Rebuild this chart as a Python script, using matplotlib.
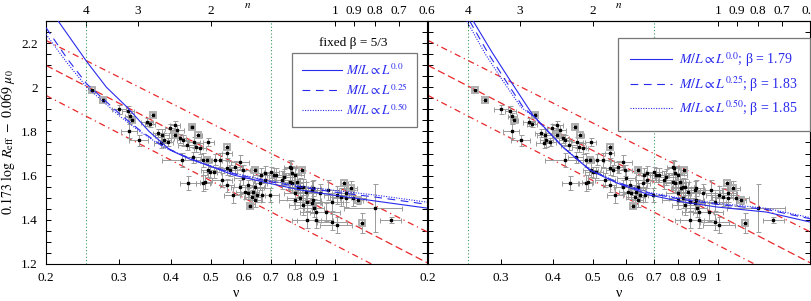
import numpy as np
import matplotlib
matplotlib.use('Agg')
import matplotlib.pyplot as plt
from matplotlib.ticker import FixedLocator, NullLocator, MultipleLocator, FixedFormatter

plt.rcParams['font.family'] = ['Liberation Serif', 'DejaVu Serif']
plt.rcParams['mathtext.fontset'] = 'stix'

#%% data
# galaxies: nu, 0.173 log Reff - 0.069 mu0, errors, boxed (grey square)
nu = [0.259, 0.274, 0.300, 0.316, 0.319, 0.323, 0.318, 0.335, 0.362, 0.351,
      0.357, 0.374, 0.382, 0.386, 0.399, 0.410, 0.415, 0.410, 0.394, 0.380,
      0.422, 0.451, 0.429, 0.438, 0.457, 0.462, 0.472, 0.494, 0.491, 0.427,
      0.454, 0.480, 0.548, 0.548, 0.512, 0.528, 0.590, 0.494, 0.509, 0.548,
      0.597, 0.641, 0.676, 0.710, 0.750, 0.779, 0.801, 0.485, 0.534, 0.600,
      0.676, 0.743, 0.779, 0.480, 0.548, 0.590, 0.614, 0.641, 0.659, 0.565,
      0.607, 0.617, 0.631, 0.648, 0.666, 0.697, 0.624, 0.641, 0.634, 0.663,
      0.701, 0.721, 0.788, 0.829, 0.783, 0.788, 0.824, 0.810, 0.834, 0.815,
      0.801, 0.848, 0.881, 0.886, 0.824, 0.801, 0.834, 0.857, 0.881, 0.886,
      0.921, 0.963, 1.008, 0.985, 1.053, 1.089, 1.059, 1.107, 1.138, 0.900,
      0.949, 0.900, 0.985, 1.008, 1.163, 1.250, 1.361, 1.030, 1.059, 0.856,
      0.889, 0.499, 0.558, 0.574, 0.441, 0.466]
Y = [1.987, 1.942, 1.901, 1.892, 1.870, 1.852, 1.802, 1.761, 1.874, 1.843,
     1.834, 1.793, 1.784, 1.761, 1.815, 1.829, 1.806, 1.784, 1.752, 1.748,
     1.770, 1.820, 1.761, 1.738, 1.752, 1.729, 1.725, 1.752, 1.671, 1.671,
     1.684, 1.671, 1.729, 1.702, 1.671, 1.671, 1.662, 1.625, 1.616, 1.634,
     1.625, 1.625, 1.612, 1.603, 1.594, 1.639, 1.603, 1.571, 1.580, 1.589,
     1.580, 1.580, 1.571, 1.567, 1.557, 1.548, 1.557, 1.548, 1.567, 1.512,
     1.526, 1.521, 1.503, 1.512, 1.512, 1.512, 1.462, 1.490, 1.526, 1.603,
     1.616, 1.603, 1.612, 1.625, 1.634, 1.567, 1.548, 1.571, 1.548, 1.544,
     1.521, 1.526, 1.535, 1.544, 1.499, 1.490, 1.467, 1.481, 1.476, 1.490,
     1.521, 1.535, 1.512, 1.481, 1.567, 1.544, 1.499, 1.499, 1.490, 1.435,
     1.435, 1.399, 1.390, 1.376, 1.385, 1.453, 1.399, 1.503, 1.521, 1.399,
     1.453, 1.616, 1.625, 1.639, 1.567, 1.784]
nu_err = [0.004, 0.005, 0.012, 0.010, 0.008, 0.006, 0.014, 0.018, 0.006, 0.012,
          0.010, 0.012, 0.015, 0.014, 0.012, 0.012, 0.015, 0.008, 0.012, 0.015,
          0.015, 0.006, 0.015, 0.020, 0.015, 0.018, 0.015, 0.015, 0.008, 0.045,
          0.020, 0.020, 0.010, 0.015, 0.020, 0.025, 0.030, 0.020, 0.020, 0.025,
          0.025, 0.010, 0.030, 0.035, 0.045, 0.025, 0.040, 0.015, 0.030, 0.030,
          0.040, 0.050, 0.040, 0.018, 0.020, 0.030, 0.030, 0.030, 0.025, 0.025,
          0.030, 0.025, 0.030, 0.030, 0.030, 0.035, 0.010, 0.020, 0.020, 0.030,
          0.030, 0.035, 0.040, 0.015, 0.030, 0.050, 0.050, 0.040, 0.040, 0.045,
          0.050, 0.050, 0.050, 0.040, 0.060, 0.070, 0.060, 0.060, 0.050, 0.040,
          0.060, 0.060, 0.070, 0.060, 0.020, 0.040, 0.070, 0.080, 0.030, 0.080,
          0.080, 0.090, 0.080, 0.090, 0.020, 0.200, 0.080, 0.060, 0.050, 0.070,
          0.050, 0.020, 0.020, 0.020, 0.020, 0.010]
Y_err = [0.005, 0.008, 0.020, 0.025, 0.015, 0.010, 0.030, 0.025, 0.008, 0.020,
         0.015, 0.020, 0.025, 0.030, 0.020, 0.020, 0.025, 0.010, 0.020, 0.025,
         0.020, 0.008, 0.025, 0.020, 0.025, 0.020, 0.025, 0.020, 0.010, 0.030,
         0.025, 0.030, 0.012, 0.020, 0.025, 0.030, 0.030, 0.030, 0.025, 0.030,
         0.025, 0.010, 0.030, 0.030, 0.035, 0.030, 0.035, 0.030, 0.030, 0.030,
         0.035, 0.040, 0.035, 0.035, 0.030, 0.030, 0.025, 0.030, 0.030, 0.035,
         0.030, 0.025, 0.030, 0.030, 0.030, 0.030, 0.010, 0.030, 0.025, 0.030,
         0.025, 0.030, 0.030, 0.015, 0.030, 0.040, 0.040, 0.035, 0.035, 0.040,
         0.040, 0.045, 0.040, 0.035, 0.045, 0.040, 0.045, 0.040, 0.045, 0.040,
         0.040, 0.045, 0.040, 0.040, 0.015, 0.030, 0.040, 0.035, 0.020, 0.040,
         0.040, 0.035, 0.035, 0.035, 0.045, 0.110, 0.012, 0.040, 0.040, 0.035,
         0.040, 0.025, 0.025, 0.025, 0.030, 0.012]
boxed = [1, 1, 0, 0, 0, 1, 0, 0, 1, 0, 0, 0, 0, 0, 0, 0, 0, 1, 0, 0,
         0, 1, 0, 0, 0, 0, 0, 0, 1, 0, 0, 0, 1, 0, 0, 0, 0, 0, 0, 0,
         0, 1, 0, 0, 0, 0, 0, 0, 0, 0, 0, 0, 0, 0, 0, 0, 0, 0, 0, 0,
         0, 0, 0, 0, 0, 0, 1, 0, 0, 0, 0, 0, 0, 1, 0, 0, 0, 0, 0, 0,
         0, 0, 0, 0, 0, 0, 0, 0, 0, 0, 0, 0, 0, 0, 1, 1, 0, 0, 1, 0,
         0, 0, 0, 0, 1, 0, 0, 0, 0, 0, 0, 0, 0, 0, 0, 1]

# model curves, left panel (fixed beta)
left_solid_nu = [0.214, 0.2514, 0.28, 0.314, 0.355, 0.399, 0.445, 0.490, 0.567, 0.686, 0.824, 0.990, 1.197, 1.667]
left_solid_Y = [2.300, 2.114, 2.00, 1.910, 1.800, 1.716, 1.675, 1.648, 1.603, 1.567, 1.535, 1.512, 1.490, 1.453]
left_dash_nu = [0.2, 0.225, 0.251, 0.302, 0.340, 0.384, 0.430, 0.490, 0.570, 0.690, 0.830, 1.000, 1.250, 1.667]
left_dash_Y = [2.270, 2.130, 2.015, 1.878, 1.800, 1.733, 1.690, 1.648, 1.608, 1.574, 1.547, 1.525, 1.503, 1.470]
left_dot_nu = [0.2, 0.225, 0.251, 0.302, 0.340, 0.384, 0.430, 0.490, 0.570, 0.690, 0.830, 1.000, 1.250, 1.667]
left_dot_Y = [2.240, 2.110, 2.000, 1.868, 1.795, 1.730, 1.690, 1.650, 1.610, 1.578, 1.552, 1.533, 1.512, 1.480]

# model curves, right panel (fitted beta)
right_solid_nu = [0.257, 0.285, 0.315, 0.358, 0.423, 0.491, 0.570, 0.685, 0.823, 0.994, 1.31, 1.667]
right_solid_Y = [2.300, 2.160, 2.033, 1.874, 1.729, 1.625, 1.567, 1.512, 1.481, 1.458, 1.435, 1.390]
right_dash_nu = [0.252, 0.280, 0.307, 0.339, 0.361, 0.423, 0.491, 0.570, 0.685, 0.823, 0.994, 1.31, 1.667]
right_dash_Y = [2.300, 2.150, 2.033, 1.910, 1.865, 1.729, 1.627, 1.570, 1.520, 1.492, 1.470, 1.447, 1.405]
right_dot_nu = [0.248, 0.275, 0.302, 0.335, 0.361, 0.423, 0.491, 0.570, 0.685, 0.823, 0.994, 1.31, 1.667]
right_dot_Y = [2.300, 2.150, 2.033, 1.910, 1.865, 1.729, 1.628, 1.572, 1.523, 1.496, 1.475, 1.452, 1.410]

# red reference lines (end points at nu = 0.2 and nu = 1/0.6)
red_nu = [0.2, 1 / 0.6]
red_upper = [2.212, 1.346]
red_mid = [2.099, 1.206]
red_low = [1.963, 1.070]

green_nu = [0.25, 0.7]

labels_left = [r'$M/L \propto L^{0.0}$', r'$M/L \propto L^{0.25}$', r'$M/L \propto L^{0.50}$']
labels_right = [r'$M/L \propto L^{0.0}$; β = 1.79', r'$M/L \propto L^{0.25}$; β = 1.83',
                r'$M/L \propto L^{0.50}$; β = 1.85']

nu_ticks = [0.2, 0.3, 0.4, 0.5, 0.6, 0.7, 0.8, 0.9, 1.0]
nu_ticklabels = ['0.2', '0.3', '0.4', '0.5', '0.6', '0.7', '0.8', '0.9', '1']
n_ticks = [4, 3, 2, 1, 0.9, 0.8, 0.7, 0.6]
n_ticklabels = ['4', '3', '2', '1', '0.9', '0.8', '0.7', '0.6']
y_ticks = [1.2, 1.4, 1.6, 1.8, 2.0, 2.2]
y_ticklabels = ['1.2', '1.4', '1.6', '1.8', '2', '2.2']

#%% figure
blue = '#2a2aee'
red = '#e8272a'
green = '#3a9a5a'
grey = '#9a9a9a'

fig = plt.figure(figsize=(8.11, 3.01), dpi=100)
W, H = 811., 301.
axL = fig.add_axes([46 / W, 1 - 264 / H, 381 / W, 243 / H])
axR = fig.add_axes([428 / W, 1 - 264 / H, 382 / W, 243 / H])

nu_a = np.array(nu)
Y_a = np.array(Y)
box_a = np.array(boxed).astype(bool)


def inv(x):
    x = np.asarray(x, dtype=float)
    with np.errstate(divide='ignore'):
        return 1.0 / x


for ax in (axL, axR):
    ax.set_xscale('log')
    ax.set_xlim(0.2, 1 / 0.6)
    ax.set_ylim(1.2, 2.3)

    for v in green_nu:
        ax.axvline(v, color=green, lw=0.8, ls=(0, (1, 2)), zorder=1)
    ax.plot(red_nu, red_upper, color=red, lw=0.9, ls=(0, (5, 3, 1, 3)), zorder=2)
    ax.plot(red_nu, red_mid, color=red, lw=0.9, ls=(0, (6, 3)), zorder=2)
    ax.plot(red_nu, red_low, color=red, lw=0.9, ls=(0, (5, 3, 1, 3)), zorder=2)

    ax.errorbar(nu_a, Y_a, xerr=nu_err, yerr=Y_err, fmt='none', ecolor=grey,
                elinewidth=0.7, capsize=1.8, capthick=0.7, zorder=3)
    ax.plot(nu_a[box_a], Y_a[box_a], ls='none', marker='s', ms=4.5, mfc='none',
            mec='#b0b0b0', mew=1.4, zorder=4)
    ax.plot(nu_a, Y_a, ls='none', marker='s', ms=1.6, color='black', zorder=5)

    ax.xaxis.set_major_locator(FixedLocator(nu_ticks))
    ax.xaxis.set_major_formatter(FixedFormatter(nu_ticklabels))
    ax.xaxis.set_minor_locator(NullLocator())
    ax.yaxis.set_major_locator(FixedLocator(y_ticks))
    ax.yaxis.set_major_formatter(FixedFormatter(y_ticklabels))
    ax.yaxis.set_minor_locator(MultipleLocator(0.05))
    ax.tick_params(which='both', direction='in', length=3.5, width=0.7,
                   labelsize=9.5, right=True, pad=6)
    ax.set_xlabel('ν', fontsize=10, labelpad=2)
    for s in ax.spines.values():
        s.set_linewidth(0.8)

    sec = ax.secondary_xaxis('top', functions=(inv, inv))
    sec.xaxis.set_major_locator(FixedLocator(n_ticks))
    sec.xaxis.set_major_formatter(FixedFormatter(n_ticklabels))
    sec.xaxis.set_minor_locator(NullLocator())
    sec.tick_params(direction='in', length=3.5, width=0.7, labelsize=9.5, pad=3)
    ax.text(0.53 if ax is axL else 0.5, 1.062, '$n$', transform=ax.transAxes,
            ha='center', va='center', fontsize=8)

# left panel curves
l1, = axL.plot(left_solid_nu, left_solid_Y, color=blue, lw=0.8, zorder=6)
l2, = axL.plot(left_dash_nu, left_dash_Y, color=blue, lw=0.8, ls=(0, (7, 5)), zorder=6)
l3, = axL.plot(left_dot_nu, left_dot_Y, color=blue, lw=0.8, ls=(0, (1, 1.3)), zorder=6)
axL.set_ylabel(r'$0.173\ \log\ R_{\rm eff}\ -\ 0.069\ \mu_0$', fontsize=10, labelpad=3)
legL = axL.legend([l1, l2, l3], labels_left, loc='upper left',
                  bbox_to_anchor=(0.646, 0.868), labelcolor=blue, fontsize=9.5,
                  frameon=True, fancybox=False, edgecolor='#777777', framealpha=1,
                  handlelength=3.0, handletextpad=0.3, labelspacing=0.3,
                  borderpad=0.75, borderaxespad=0)
legL.get_frame().set_linewidth(0.9)
legL.set_zorder(10)
axL.text(0.806, 0.909, 'fixed β = 5/3', transform=axL.transAxes, ha='center',
         va='center', fontsize=9.5)

# right panel curves
r1, = axR.plot(right_solid_nu, right_solid_Y, color=blue, lw=0.8, zorder=6)
r2, = axR.plot(right_dash_nu, right_dash_Y, color=blue, lw=0.8, ls=(0, (7, 5)), zorder=6)
r3, = axR.plot(right_dot_nu, right_dot_Y, color=blue, lw=0.8, ls=(0, (1, 1.3)), zorder=6)
axR.tick_params(labelleft=False, left=True)
legR = axR.legend([r1, r2, r3], labels_right, loc='upper right',
                  bbox_to_anchor=(1.0, 0.93), labelcolor=blue, fontsize=10,
                  frameon=True, fancybox=False, edgecolor='#777777', framealpha=1,
                  handlelength=3.0, handletextpad=0.5, labelspacing=0.35,
                  borderpad=0.9, borderaxespad=0)
legR.get_frame().set_linewidth(0.9)
legR.set_zorder(10)

fig.savefig('out.png', dpi=100)
